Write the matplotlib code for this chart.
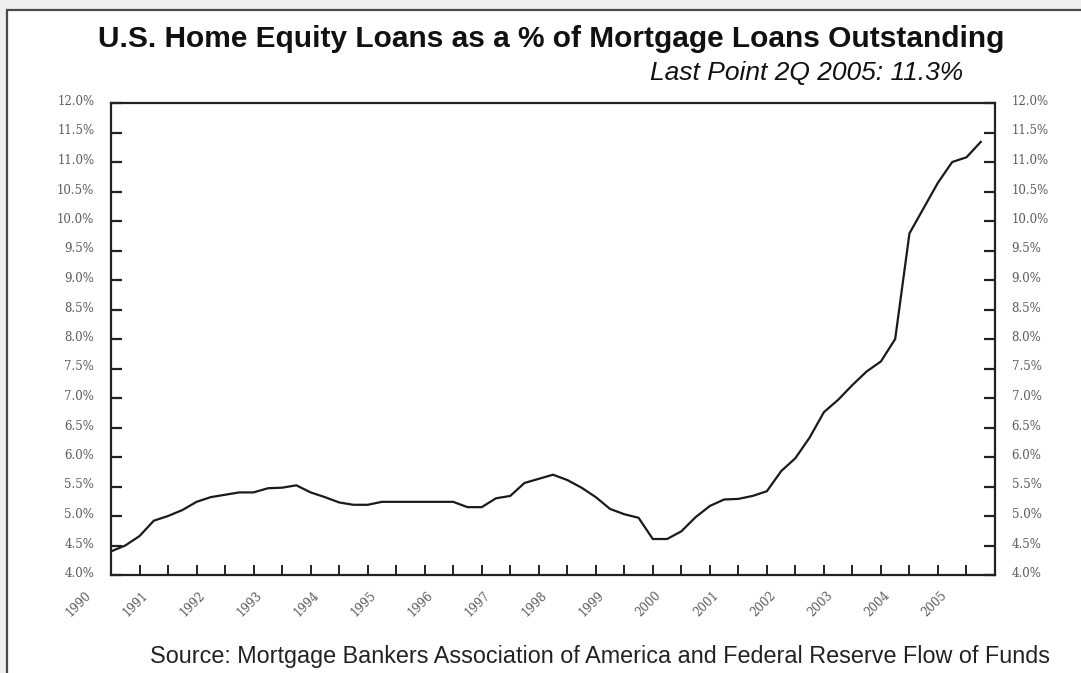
import matplotlib
matplotlib.use("Agg")
import matplotlib.pyplot as plt
import matplotlib.transforms as mtransforms
from matplotlib.patches import Rectangle

# quarterly values, 1Q 1990 .. 2Q 2005 (%)
share = [4.40, 4.50, 4.66, 4.92, 5.00, 5.10, 5.24, 5.32, 5.36, 5.40,
         5.40, 5.47, 5.48, 5.52, 5.40, 5.32, 5.23, 5.19, 5.19, 5.24,
         5.24, 5.24, 5.24, 5.24, 5.24, 5.15, 5.15, 5.30, 5.34, 5.56,
         5.63, 5.70, 5.61, 5.48, 5.32, 5.12, 5.03, 4.97, 4.61, 4.61,
         4.74, 4.98, 5.17, 5.28, 5.29, 5.34, 5.42, 5.76, 5.98, 6.33,
         6.76, 6.97, 7.22, 7.45, 7.62, 8.00, 9.79, 10.22, 10.65, 11.00,
         11.08, 11.34]
years = list(range(1990, 2006))
yticks = [4.0 + 0.5 * k for k in range(17)]

quarter = list(range(len(share)))

fig = plt.figure(figsize=(10.81, 6.73), dpi=100, facecolor='#efefef')
W, H = 1081, 673

# white panel with dark frame
fig.patches.append(Rectangle((7 / W, -0.05), 1.1, 1 - 10 / H + 0.05,
                             transform=fig.transFigure, facecolor='white',
                             edgecolor='#4a4a4a', linewidth=1.6, zorder=-10))

ax = fig.add_axes([111 / W, 1 - 575 / H, 884 / W, 472 / H])
ax.plot(quarter, share, color='#1a1a1a', linewidth=1.6)

ax.set_xlim(0, 62)
ax.set_ylim(4.0, 12.0)

for s in ax.spines.values():
    s.set_linewidth(1.6)
    s.set_color('#222222')

tick_font = dict(family='DejaVu Serif', size=8.5, color='#5a5a5a')

ax.set_yticks(yticks)
ax.set_yticklabels(['%.1f%%' % v for v in yticks], **tick_font)
ax.tick_params(axis='y', direction='in', length=8, width=1.6, color='#222222',
               left=True, right=True, labelleft=True, labelright=True, pad=12)

ax.set_xticks([4 * k for k in range(len(years))])
ax.set_xticks([4 * k + 2 for k in range(len(years))], minor=True)
ax.set_xticklabels([str(y) for y in years], rotation=45, ha='right',
                   va='center', rotation_mode='anchor', **tick_font)
ax.tick_params(axis='x', which='both', direction='in', length=7.5, width=1.4,
               color='#222222', pad=13)

shift = mtransforms.ScaledTranslation(-22 / 100, 0, fig.dpi_scale_trans)
for lab in ax.get_xticklabels():
    lab.set_transform(lab.get_transform() + shift)
up = mtransforms.ScaledTranslation(0, 3 / 100, fig.dpi_scale_trans)
for t in ax.yaxis.get_major_ticks():
    t.label1.set_transform(t.label1.get_transform() + up)
    t.label2.set_transform(t.label2.get_transform() + up)

fig.text(551 / W, 1 - 39 / H,
         'U.S. Home Equity Loans as a % of Mortgage Loans Outstanding',
         ha='center', va='center', fontsize=21.5, fontweight='bold',
         family='Liberation Sans', color='#111111')
fig.text(963 / W, 1 - 73 / H, 'Last Point 2Q 2005: 11.3%',
         ha='right', va='center', fontsize=19, style='italic',
         family='Liberation Sans', color='#111111')
fig.text(1050 / W, 1 - 656 / H,
         'Source: Mortgage Bankers Association of America and Federal Reserve Flow of Funds',
         ha='right', va='center', fontsize=16.8,
         family='Liberation Sans', color='#222222')

fig.savefig('out.png', dpi=100, facecolor=fig.get_facecolor())
